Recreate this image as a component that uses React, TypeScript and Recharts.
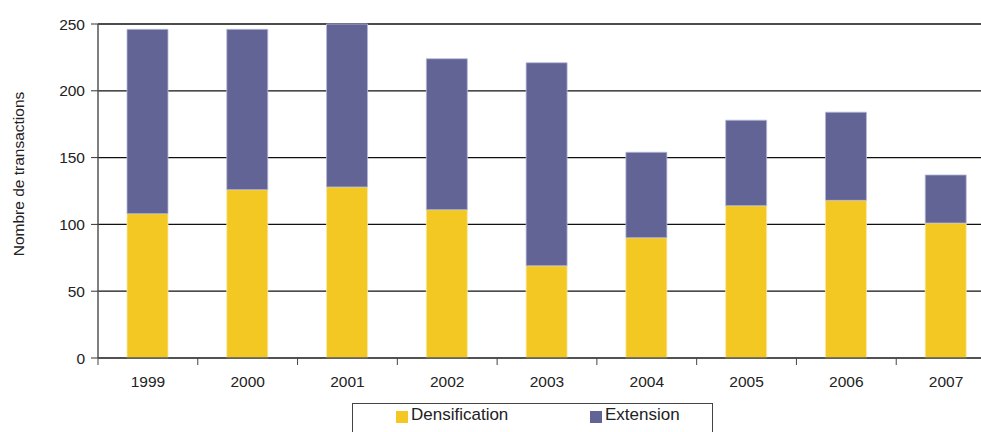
import { BarChart, Bar, XAxis, YAxis, CartesianGrid } from "recharts";

const years = ["1999", "2000", "2001", "2002", "2003", "2004", "2005", "2006", "2007"];
const densification = [108, 126, 128, 111, 69, 90, 114, 118, 101];
const extension = [138, 120, 122, 113, 152, 64, 64, 66, 36];
const yTicks = [0, 50, 100, 150, 200, 250];

const seriesNames = ["Densification", "Extension"];
const seriesColors = ["#F4C822", "#626496"];

const data = years.map((year, i) => ({
  year,
  densification: densification[i],
  extension: extension[i],
}));

// the plot runs a little past the right edge of the picture
const W = 981;
const CHART_W = 996;
const H = 432;
const AXIS_W = 98;
const band = (CHART_W - AXIS_W) / years.length;
const font = "'Liberation Sans', Arial, sans-serif";

function YearTick(props: any) {
  const { x, y, payload, index } = props;
  return (
    <g>
      {index === 0 && (
        <line x1={x - band / 2} y1={y - 8} x2={x - band / 2} y2={y - 1} stroke="#444" />
      )}
      <line x1={x + band / 2} y1={y - 8} x2={x + band / 2} y2={y - 1} stroke="#444" />
      <text x={x} y={y + 21} textAnchor="middle" fontSize={15.5} fill="#222" fontFamily={font}>
        {payload.value}
      </text>
    </g>
  );
}

export default function App() {
  return (
    <div style={{ position: "absolute", left: 0, top: 0, width: W, height: H, overflow: "hidden", fontFamily: font }}>
      <BarChart width={CHART_W} height={H} data={data} margin={{ top: 24, right: 0, left: 0, bottom: 0 }} barSize={41}>
        <CartesianGrid vertical={false} stroke="#111" strokeWidth={1.3} />
        <XAxis
          dataKey="year"
          height={74}
          axisLine={{ stroke: "#555", strokeWidth: 1.5 }}
          tickLine={false}
          tick={<YearTick />}
          interval={0}
        />
        <YAxis
          width={AXIS_W}
          domain={[0, 250]}
          ticks={yTicks}
          axisLine={{ stroke: "#555", strokeWidth: 1.5 }}
          tickLine={{ stroke: "#333" }}
          tickSize={7}
          tickMargin={6}
          tick={{ fontSize: 15.5, fill: "#222", fontFamily: font }}
          label={{
            value: "Nombre de transactions",
            angle: -90,
            position: "insideLeft",
            offset: 18,
            dy: -17,
            style: { textAnchor: "middle", fontSize: 15.5, fill: "#222", fontFamily: font },
          }}
        />
        <Bar dataKey="densification" stackId="a" fill={seriesColors[0]} stroke="#f7e9a8" strokeWidth={0.8} isAnimationActive={false} />
        <Bar dataKey="extension" stackId="a" fill={seriesColors[1]} stroke="#b8b9d8" strokeWidth={0.8} isAnimationActive={false} />
      </BarChart>
      <div
        style={{
          position: "absolute",
          left: 352,
          top: 403,
          width: 361,
          height: 40,
          border: "1px solid #444",
          boxSizing: "border-box",
          fontSize: 17,
          color: "#222",
        }}
      >
        {seriesNames.map((name, i) => (
          <div key={name} style={{ position: "absolute", left: i === 0 ? 43 : 237, top: 1, display: "flex", alignItems: "center" }}>
            <span style={{ display: "inline-block", width: 12, height: 12, background: seriesColors[i], marginRight: 3, marginTop: 4 }} />
            <span>{name}</span>
          </div>
        ))}
      </div>
    </div>
  );
}
